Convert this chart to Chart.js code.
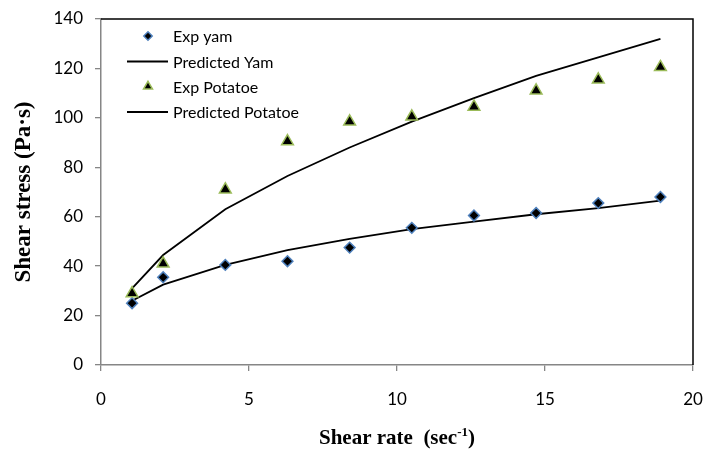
<!DOCTYPE html>
<html>
<head>
<meta charset="utf-8">
<script src="https://cdn.jsdelivr.net/npm/chart.js@4/dist/chart.umd.min.js"></script>
<style>
  html, body { margin: 0; padding: 0; background: #ffffff; }
  #wrap { width: 707px; height: 452px; }
</style>
</head>
<body>
<div id="wrap"><canvas id="c" width="707" height="452"></canvas></div>
<script>
// ---- data ----
const shearRate = [1.05, 2.1, 4.2, 6.3, 8.4, 10.5, 12.6, 14.7, 16.8, 18.9];
const expYam = [25, 35.5, 40.5, 42, 47.5, 55.5, 60.5, 61.5, 65.5, 68];
const predictedYam = [26, 32.5, 40.5, 46.5, 51, 55, 58, 61, 63.5, 66.5];
const expPotatoe = [29, 41, 71, 90.5, 98.5, 100.5, 104.5, 111, 115.5, 120.5];
const predictedPotatoe = [31, 44.5, 63, 76.5, 88, 98.5, 108, 117, 124.5, 132];
const seriesNames = ["Exp yam", "Predicted Yam", "Exp Potatoe", "Predicted Potatoe"];
const xTicks = [0, 5, 10, 15, 20];
const yTicks = [0, 20, 40, 60, 80, 100, 120, 140];
const xTitle = "Shear rate  (sec";
const xTitleSup = "-1";
const yTitle = "Shear stress (Pa\u00B7s)";

const toPoints = (ys) => shearRate.map((x, i) => ({ x: x, y: ys[i] }));

const TICK_FONT = { family: "Lato", size: 17 };
const AXIS_GRAY = "#868686";

const datasets = [
  {
    label: seriesNames[0], data: toPoints(expYam), showLine: false,
    pointStyle: "rectRot", pointRadius: 5.4, pointHoverRadius: 5.4,
    backgroundColor: "#000000", borderColor: "#4F81BD", pointBorderWidth: 1.5, order: 1
  },
  {
    label: seriesNames[1], data: toPoints(predictedYam), showLine: true,
    pointRadius: 0, borderColor: "#000000", borderWidth: 1.8, tension: 0,
    backgroundColor: "#000000", order: 3
  },
  {
    label: seriesNames[2], data: toPoints(expPotatoe), showLine: false,
    pointStyle: "triangle", pointRadius: 6.8, pointHoverRadius: 6.8,
    backgroundColor: "#000000", borderColor: "#9BBB59", pointBorderWidth: 1.5, order: 0
  },
  {
    label: seriesNames[3], data: toPoints(predictedPotatoe), showLine: true,
    pointRadius: 0, borderColor: "#000000", borderWidth: 1.8, tension: 0,
    backgroundColor: "#000000", order: 2
  }
];

const frameAndLegend = {
  id: "frameAndLegend",
  afterDraw(chart) {
    const ctx = chart.ctx;
    const a = chart.chartArea;
    ctx.save();
    // black top and right frame lines
    ctx.strokeStyle = "#000000";
    ctx.lineWidth = 1.5;
    ctx.beginPath();
    ctx.moveTo(a.left, a.top);
    ctx.lineTo(a.right, a.top);
    ctx.lineTo(a.right, a.bottom);
    ctx.stroke();

    // legend inside plot
    const rowsY = [36, 61.5, 86.5, 112];
    const markX = 148, lineX0 = 127, lineX1 = 168, textX = 173;
    ctx.font = "16px Lato";
    ctx.textBaseline = "middle";
    ctx.textAlign = "left";
    chart.data.datasets.forEach((ds, i) => {
      const y = rowsY[i];
      if (ds.showLine) {
        ctx.strokeStyle = ds.borderColor;
        ctx.lineWidth = ds.borderWidth;
        ctx.beginPath();
        ctx.moveTo(lineX0, y);
        ctx.lineTo(lineX1, y);
        ctx.stroke();
      } else {
        ctx.fillStyle = ds.backgroundColor;
        ctx.strokeStyle = ds.borderColor;
        ctx.lineWidth = ds.pointBorderWidth;
        Chart.helpers.drawPoint(ctx, {
          pointStyle: ds.pointStyle,
          radius: ds.pointStyle === "triangle" ? 5.2 : 4.2,
          borderWidth: ds.pointBorderWidth,
          rotation: 0
        }, markX, y);
      }
      ctx.fillStyle = "#000000";
      ctx.fillText(ds.label, textX, y + 1);
    });

    // x axis title with superscript
    ctx.fillStyle = "#000000";
    ctx.textBaseline = "alphabetic";
    const mainFont = "bold 21px 'Liberation Serif'";
    const supFont = "bold 13px 'Liberation Serif'";
    ctx.font = mainFont;
    const w1 = ctx.measureText(xTitle).width;
    const wClose = ctx.measureText(")").width;
    ctx.font = supFont;
    const w2 = ctx.measureText(xTitleSup).width;
    const total = w1 + w2 + wClose;
    const cx = (a.left + a.right) / 2;
    let x = cx - total / 2;
    const base = 444;
    ctx.font = mainFont;
    ctx.fillText(xTitle, x, base);
    x += w1;
    ctx.font = supFont;
    ctx.fillText(xTitleSup, x, base - 8);
    x += w2;
    ctx.font = mainFont;
    ctx.fillText(")", x, base);
    ctx.restore();
  }
};

new Chart(document.getElementById("c"), {
  type: "scatter",
  data: { datasets: datasets },
  options: {
    responsive: false,
    animation: false,
    events: [],
    layout: { padding: { left: 10, top: 19, right: 14, bottom: 2 } },
    plugins: { legend: { display: false }, tooltip: { enabled: false } },
    scales: {
      x: {
        type: "linear", min: 0, max: 20,
        afterBuildTicks: (s) => { s.ticks = xTicks.map(v => ({ value: v })); },
        afterFit: (s) => { s.height = 85; s.paddingLeft = 0; s.paddingRight = 0; },
        ticks: { font: TICK_FONT, color: "#000000", padding: 18 },
        grid: { display: true, drawOnChartArea: false, drawTicks: true, tickLength: 6, color: AXIS_GRAY, lineWidth: 1.3 },
        border: { display: true, color: AXIS_GRAY, width: 1.5 },
        title: { display: false }
      },
      y: {
        type: "linear", min: 0, max: 140,
        afterBuildTicks: (s) => { s.ticks = yTicks.map(v => ({ value: v })); },
        afterFit: (s) => { s.width = 91; s.paddingTop = 0; s.paddingBottom = 0; },
        ticks: { font: TICK_FONT, color: "#000000", padding: 12 },
        grid: { display: true, drawOnChartArea: false, drawTicks: true, tickLength: 6, color: AXIS_GRAY, lineWidth: 1.3 },
        border: { display: true, color: AXIS_GRAY, width: 1.5 },
        title: {
          display: true, text: yTitle, color: "#000000",
          font: { family: "Liberation Serif", size: 23, weight: "bold" },
          padding: 0
        }
      }
    }
  },
  plugins: [frameAndLegend]
});
</script>
</body>
</html>
